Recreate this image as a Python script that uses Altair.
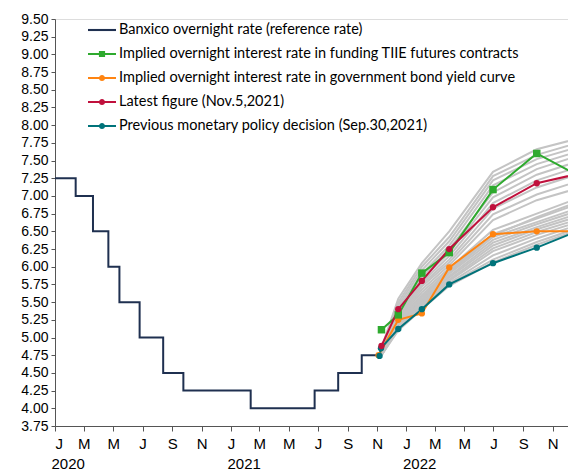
import altair as alt
import pandas as pd

# ---------------- data ----------------
bx_dates = ["2020-01-01", "2020-02-13", "2020-03-20", "2020-04-21", "2020-05-14",
            "2020-06-25", "2020-08-13", "2020-09-24", "2021-02-11", "2021-06-24",
            "2021-08-12", "2021-09-30", "2021-11-04"]
bx_vals = [7.25, 7.00, 6.50, 6.00, 5.50, 5.00, 4.50, 4.25, 4.00, 4.25, 4.50, 4.75, 4.75]

fc_dates = ["2021-11-10", "2021-12-15", "2022-02-02", "2022-03-31",
            "2022-06-30", "2022-09-29", "2022-12-29"]
tiie_vals = [5.11, 5.32, 5.91, 6.20, 7.09, 7.60, 7.27]
latest_vals = [4.88, 5.40, 5.80, 6.25, 6.84, 7.18, 7.32]

bond_dates = ["2021-11-04", "2021-12-15", "2022-02-02", "2022-03-31",
              "2022-06-30", "2022-09-29", "2022-12-29"]
bond_vals = [4.75, 5.25, 5.34, 5.99, 6.46, 6.50, 6.50]

prev_dates = ["2021-11-06", "2021-11-09", "2021-12-15", "2022-02-02", "2022-03-31",
              "2022-06-30", "2022-09-29", "2022-12-29"]
prev_vals = [4.74, 4.85, 5.12, 5.40, 5.75, 6.05, 6.27, 6.52]

gray_paths = [
    [4.85, 5.55, 6.05, 6.50, 7.34, 7.66, 7.82],
    [4.83, 5.50, 6.00, 6.42, 7.28, 7.58, 7.76],
    [4.82, 5.46, 5.95, 6.36, 7.22, 7.52, 7.70],
    [4.80, 5.42, 5.90, 6.30, 7.15, 7.45, 7.64],
    [4.80, 5.40, 5.86, 6.25, 7.05, 7.38, 7.58],
    [4.79, 5.37, 5.82, 6.20, 6.98, 7.30, 7.50],
    [4.78, 5.35, 5.78, 6.15, 6.90, 7.22, 7.42],
    [4.80, 5.33, 5.75, 6.10, 6.82, 7.12, 7.32],
    [4.78, 5.30, 5.72, 6.06, 6.74, 7.02, 7.22],
    [4.77, 5.28, 5.68, 6.02, 6.66, 6.94, 7.12],
    [4.78, 5.27, 5.64, 5.98, 6.52, 6.75, 6.98],
    [4.77, 5.25, 5.60, 5.95, 6.46, 6.68, 6.90],
    [4.76, 5.23, 5.57, 5.92, 6.42, 6.63, 6.84],
    [4.77, 5.21, 5.54, 5.90, 6.38, 6.60, 6.80],
    [4.76, 5.20, 5.52, 5.87, 6.34, 6.56, 6.76],
    [4.75, 5.18, 5.50, 5.85, 6.30, 6.53, 6.72],
    [4.76, 5.16, 5.48, 5.82, 6.26, 6.49, 6.68],
    [4.75, 5.15, 5.46, 5.80, 6.22, 6.45, 6.64],
    [4.75, 5.13, 5.44, 5.77, 6.16, 6.40, 6.60],
    [4.75, 5.12, 5.42, 5.75, 6.10, 6.35, 6.56],
    [4.75, 5.10, 5.40, 5.73, 6.06, 6.31, 6.53],
    [4.76, 5.22, 5.58, 5.94, 6.44, 6.70, 6.93],
]

series_names = [
    "Banxico overnight rate (reference rate)",
    "Implied overnight interest rate in funding TIIE futures contracts",
    "Implied overnight interest rate in government bond yield curve",
    "Latest figure (Nov.5,2021)",
    "Previous monetary policy decision (Sep.30,2021)",
]
series_colors = ["#1f3050", "#2eaa2e", "#ff8411", "#c0103c", "#00737a"]

year_dates = ["2020-01-01", "2021-01-01", "2022-01-01"]
year_labels = ["2020", "2021", "2022"]

# ---------------- tables ----------------
def frame(dates, vals, name):
    return pd.DataFrame({"date": dates, "value": vals, "series": name})

bx_df = frame(bx_dates, bx_vals, series_names[0])
tiie_df = frame(fc_dates, tiie_vals, series_names[1])
bond_df = frame(bond_dates, bond_vals, series_names[2])
latest_df = frame(fc_dates, latest_vals, series_names[3])
prev_df = frame(prev_dates, prev_vals, series_names[4])

gray_rows = []
for i, path in enumerate(gray_paths):
    for d, v in zip(fc_dates, path):
        gray_rows.append({"date": d, "value": v, "path": f"g{i}"})
gray_df = pd.DataFrame(gray_rows)

legend_df = pd.DataFrame({"series": series_names})
years_df = pd.DataFrame({"date": year_dates, "label": year_labels})

# ---------------- scales ----------------
W, H = 513, 407
x_scale = alt.Scale(type="utc",
                    domain=[alt.DateTime(year=2020, month=1, date=1, utc=True),
                            alt.DateTime(year=2022, month=12, date=3, utc=True)])
y_scale = alt.Scale(domain=[3.75, 9.5], nice=False, zero=False)
tick_vals = [alt.DateTime(year=y, month=m, date=1, utc=True)
             for y in (2020, 2021, 2022) for m in (1, 3, 5, 7, 9, 11)]
y_vals = [3.75 + 0.25 * i for i in range(24)]

# mark scales use reversed order so they are not merged with the legend's scales
mark_scale = alt.Scale(domain=series_names[::-1], range=series_colors[::-1])

BAR = "M-1,-0.075H1V0.075H-1Z"
SQ = "M-0.22,-0.22H0.22V0.22H-0.22Z"
CI = "M-0.22,0A0.22,0.22 0 1,1 0.22,0A0.22,0.22 0 1,1 -0.22,0Z"
shape_range = [BAR, BAR + SQ, BAR + CI, BAR + CI, BAR + CI]

x_axis = alt.Axis(values=tick_vals, format="%b", labelExpr="substring(datum.label,0,1)",
                  title=None, grid=False, tickSize=5, labelPadding=5,
                  labelFont="Liberation Sans", labelFontSize=15, labelColor="#000",
                  domainColor="#555", tickColor="#555", labelAngle=0)
y_axis = alt.Axis(values=y_vals, format=".2f", title=None, grid=False, tickSize=4,
                  labelPadding=3, labelFont="Liberation Sans", labelFontSize=14,
                  labelColor="#000", domainColor="#555", tickColor="#555")

X = alt.X("date:T", scale=x_scale, axis=x_axis)
Y = alt.Y("value:Q", scale=y_scale, axis=y_axis)

gray = alt.Chart(gray_df).mark_line(color="#c4c4c4", strokeWidth=2, clip=True).encode(
    x=X, y=Y, detail="path:N")


def line_of(df, **kw):
    return alt.Chart(df).mark_line(strokeWidth=2, clip=True, **kw).encode(
        x=X, y=Y, stroke=alt.Stroke("series:N", scale=mark_scale, legend=None))


def dots_of(df, mark):
    return mark(alt.Chart(df)).encode(
        x=X, y=Y, fill=alt.Fill("series:N", scale=mark_scale, legend=None))


banxico = line_of(bx_df, interpolate="step-after")
bond_l = line_of(bond_df)
prev_l = line_of(prev_df)
tiie_l = line_of(tiie_df)
latest_l = line_of(latest_df)
bond_p = dots_of(bond_df, lambda c: c.mark_circle(size=40, opacity=1, clip=True))
prev_p = dots_of(prev_df, lambda c: c.mark_circle(size=40, opacity=1, clip=True))
tiie_p = dots_of(tiie_df, lambda c: c.mark_square(size=56, opacity=1, clip=True))
latest_p = dots_of(latest_df, lambda c: c.mark_circle(size=40, opacity=1, clip=True))

leg = alt.Legend(title=None, orient="none", legendX=33, legendY=-3, padding=0,
                 symbolSize=784, symbolStrokeWidth=0, symbolOpacity=1,
                 labelFont="Lato", labelFontSize=14.5, labelColor="#000", labelLimit=0,
                 labelOffset=3, rowPadding=3)

legend_layer = alt.Chart(legend_df).mark_point(filled=True, size=0, opacity=1).encode(
    x=alt.value(0), y=alt.value(0),
    color=alt.Color("series:N", scale=alt.Scale(domain=series_names, range=series_colors),
                    legend=leg),
    shape=alt.Shape("series:N", scale=alt.Scale(domain=series_names, range=shape_range),
                    legend=leg),
)

years = alt.Chart(years_df).mark_text(
    align="left", baseline="middle", dx=-3.5, font="Liberation Sans", fontSize=15,
    color="#000").encode(x=X, y=alt.value(H + 38), text="label:N")

chart = alt.layer(
    gray, banxico, bond_l, prev_l, tiie_l, latest_l,
    bond_p, prev_p, tiie_p, latest_p, legend_layer, years
).properties(
    width=W, height=H, autosize=alt.AutoSizeParams(type="none"),
    padding={"left": 47, "top": 11, "right": 0, "bottom": 47}
).configure_view(stroke=None).configure(background="white")

chart.save("out.html", embed_options={"renderer": "svg", "actions": False})
